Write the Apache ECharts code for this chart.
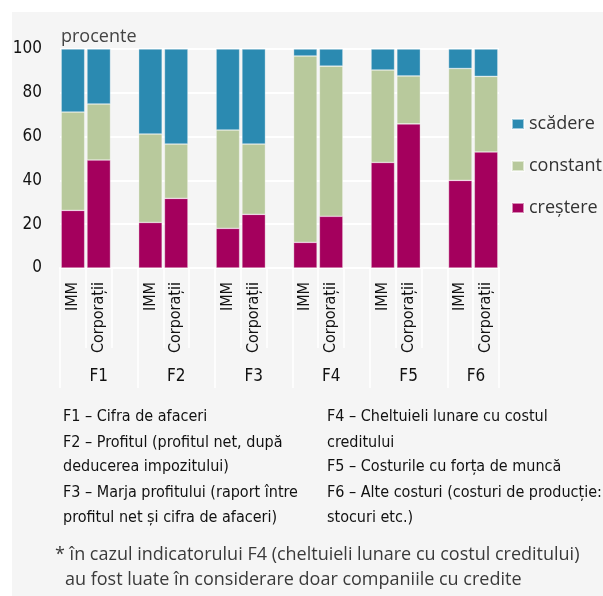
<!DOCTYPE html>
<html>
<head>
<meta charset="utf-8">
<script src="https://cdn.jsdelivr.net/npm/echarts@6/dist/echarts.min.js"></script>
<style>
  html, body { margin: 0; padding: 0; background: #fff; }
  #panel { position: absolute; left: 12px; top: 12px; width: 591px; height: 584px; background: #f5f5f5; }
  #chart { position: absolute; left: 0; top: 0; width: 603px; height: 596px; }
</style>
</head>
<body>
<div id="panel"></div>
<div id="chart"></div>
<script>
// grupe de indicatori si tipuri de firme
const groups = ['F1', 'F2', 'F3', 'F4', 'F5', 'F6']
const firms = ['IMM', 'Corporații']

// valori (procente), ordinea: IMM, Corporații pentru fiecare grupa
const crestere = [26.3, 49.3, 20.8, 31.8, 18.1, 24.5, 11.7, 23.6, 48.2, 65.8, 40.0, 53.0]
const constant = [44.9, 25.6, 40.4, 24.8, 44.9, 32.1, 85.1, 68.6, 42.2, 21.9, 51.1, 34.5]
const scadere = [28.8, 25.1, 38.8, 43.4, 37.0, 43.4, 3.2, 7.8, 9.6, 12.3, 8.9, 12.5]

const yTicks = [0, 20, 40, 60, 80, 100]

const notesLeft = [
  'F1 – Cifra de afaceri',
  'F2 – Profitul (profitul net, după',
  'deducerea impozitului)',
  'F3 – Marja profitului (raport între',
  'profitul net și cifra de afaceri)'
]
const notesRight = [
  'F4 – Cheltuieli lunare cu costul',
  'creditului',
  'F5 – Costurile cu forța de muncă',
  'F6 – Alte costuri (costuri de producție:',
  'stocuri etc.)'
]
const footnote = [
  '* în cazul indicatorului F4 (cheltuieli lunare cu costul creditului)',
  'au fost luate în considerare doar companiile cu credite'
]

const COND = '"Liberation Sans Narrow", "DejaVu Sans Condensed", sans-serif'
const REG = '"Open Sans", "Noto Sans", sans-serif'

// sloturi pe axa: IMM, Corporații, gol (fara gol dupa ultima grupa)
const slotLabels = []
const groupLabels = []
const slotIndex = []
groups.forEach((g, gi) => {
  firms.forEach((f, fi) => {
    slotIndex.push(slotLabels.length)
    slotLabels.push(f)
    groupLabels.push(fi === 1 ? (gi === groups.length - 1 ? { value: g, textStyle: { padding: [0, 20, 0, 0] } } : g) : '')
  })
  if (gi < groups.length - 1) {
    slotLabels.push('')
    groupLabels.push('')
  }
})

const toSlots = (arr) => {
  const out = slotLabels.map(() => '-')
  arr.forEach((v, i) => { out[slotIndex[i]] = v })
  return out
}

const chart = echarts.init(document.getElementById('chart'))

const barStyle = (color) => ({
  color: color,
  borderColor: 'rgba(255,255,255,0.55)',
  borderWidth: 0.6
})

const noteRows = [417, 443, 467, 493, 518]
const texts = []
notesLeft.forEach((t, i) => {
  texts.push({ type: 'text', x: 63, y: noteRows[i],
    style: { text: t, fill: '#111', font: '16px ' + COND, verticalAlign: 'middle' } })
})
notesRight.forEach((t, i) => {
  texts.push({ type: 'text', x: 327, y: noteRows[i],
    style: { text: t, fill: '#111', font: '16px ' + COND, verticalAlign: 'middle' } })
})
texts.push({ type: 'text', x: 55, y: 555,
  style: { text: footnote[0], fill: '#3a3a3a', font: '18px ' + REG, verticalAlign: 'middle' } })
texts.push({ type: 'text', x: 65, y: 580,
  style: { text: footnote[1], fill: '#3a3a3a', font: '18px ' + REG, verticalAlign: 'middle' } })
texts.push({ type: 'text', x: 61, y: 37,
  style: { text: 'procente', fill: '#444', font: '18px ' + REG, verticalAlign: 'middle' } })

chart.setOption({
  animation: false,
  grid: { left: 60, right: 104, top: 49, bottom: 328 },
  legend: {
    orient: 'vertical',
    left: 506,
    top: 110,
    itemWidth: 12,
    itemHeight: 10,
    itemGap: 24,
    icon: 'rect',
    data: ['scădere', 'constant', 'creștere'],
    textStyle: { fontFamily: REG, fontSize: 18, color: '#333' }
  },
  xAxis: [
    {
      type: 'category',
      data: slotLabels,
      axisLine: { lineStyle: { color: '#fff', width: 2 } },
      axisTick: { show: true, interval: 0, length: 80, lineStyle: { color: '#fff', width: 1.5 } },
      axisLabel: { interval: 0, rotate: 90, margin: 14, fontFamily: COND, fontSize: 16, color: '#111' }
    },
    {
      type: 'category',
      position: 'bottom',
      data: groupLabels,
      axisLine: { show: false },
      axisTick: { show: true, interval: (i) => i % 3 === 0, length: 120, lineStyle: { color: '#fff', width: 1.5 } },
      axisLabel: { interval: 0, margin: 100, fontFamily: COND, fontSize: 17, color: '#111' }
    }
  ],
  yAxis: {
    type: 'value',
    min: 0,
    max: 100,
    interval: 20,
    axisLine: { show: false },
    axisTick: { show: false },
    splitLine: { lineStyle: { color: '#fff', width: 2 } },
    axisLabel: { margin: 18, fontFamily: COND, fontSize: 17, color: '#111',
      formatter: (v) => yTicks.includes(v) ? String(v) : '' }
  },
  series: [
    { name: 'creștere', type: 'bar', stack: 'total', barCategoryGap: '9%', data: toSlots(crestere), itemStyle: barStyle('#a4005d') },
    { name: 'constant', type: 'bar', stack: 'total', data: toSlots(constant), itemStyle: barStyle('#b8c99c') },
    { name: 'scădere', type: 'bar', stack: 'total', data: toSlots(scadere), itemStyle: barStyle('#2b8ab1') }
  ],
  graphic: texts
})
</script>
</body>
</html>
